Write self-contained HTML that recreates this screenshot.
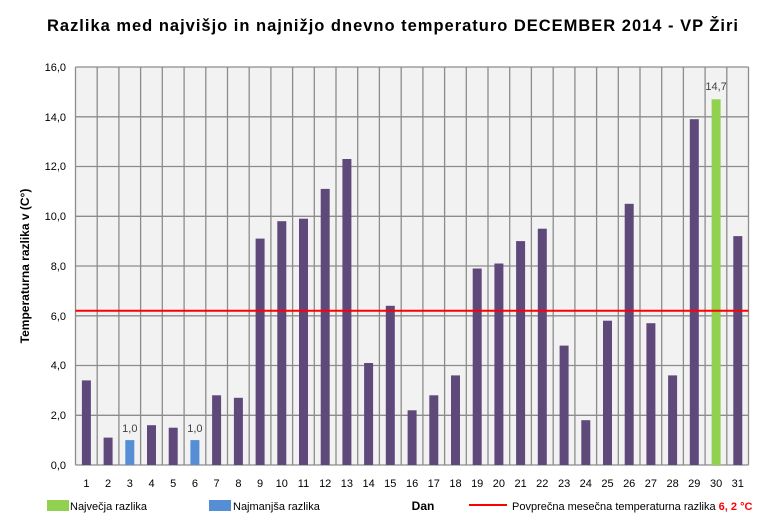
<!DOCTYPE html>
<html><head><meta charset="utf-8"><style>
body{margin:0;background:#fff;}
svg text{font-family:"Liberation Sans","DejaVu Sans",sans-serif;}
</style></head><body>
<svg width="770" height="520" xmlns="http://www.w3.org/2000/svg">
<rect width="770" height="520" fill="#fff"/>
<text x="47" y="31" textLength="691" lengthAdjust="spacing" font-size="16.5" font-weight="bold" fill="#000">Razlika med najvišjo  in najnižjo  dnevno  temperaturo  DECEMBER  2014 - VP Žiri</text>
<rect x="75.5" y="67" width="673" height="398" fill="#f2f2f2"/>
<g stroke="#8c8c8c" stroke-width="1.3">
<line x1="75.5" y1="67" x2="748.5" y2="67"/><line x1="75.5" y1="116.8" x2="748.5" y2="116.8"/><line x1="75.5" y1="166.5" x2="748.5" y2="166.5"/><line x1="75.5" y1="216.3" x2="748.5" y2="216.3"/><line x1="75.5" y1="266" x2="748.5" y2="266"/><line x1="75.5" y1="315.8" x2="748.5" y2="315.8"/><line x1="75.5" y1="365.5" x2="748.5" y2="365.5"/><line x1="75.5" y1="415.3" x2="748.5" y2="415.3"/>
<line x1="75.5" y1="67" x2="75.5" y2="465"/><line x1="97.2" y1="67" x2="97.2" y2="465"/><line x1="118.9" y1="67" x2="118.9" y2="465"/><line x1="140.6" y1="67" x2="140.6" y2="465"/><line x1="162.3" y1="67" x2="162.3" y2="465"/><line x1="184.1" y1="67" x2="184.1" y2="465"/><line x1="205.8" y1="67" x2="205.8" y2="465"/><line x1="227.5" y1="67" x2="227.5" y2="465"/><line x1="249.2" y1="67" x2="249.2" y2="465"/><line x1="270.9" y1="67" x2="270.9" y2="465"/><line x1="292.6" y1="67" x2="292.6" y2="465"/><line x1="314.3" y1="67" x2="314.3" y2="465"/><line x1="336" y1="67" x2="336" y2="465"/><line x1="357.7" y1="67" x2="357.7" y2="465"/><line x1="379.4" y1="67" x2="379.4" y2="465"/><line x1="401.2" y1="67" x2="401.2" y2="465"/><line x1="422.9" y1="67" x2="422.9" y2="465"/><line x1="444.6" y1="67" x2="444.6" y2="465"/><line x1="466.3" y1="67" x2="466.3" y2="465"/><line x1="488" y1="67" x2="488" y2="465"/><line x1="509.7" y1="67" x2="509.7" y2="465"/><line x1="531.4" y1="67" x2="531.4" y2="465"/><line x1="553.2" y1="67" x2="553.2" y2="465"/><line x1="574.9" y1="67" x2="574.9" y2="465"/><line x1="596.6" y1="67" x2="596.6" y2="465"/><line x1="618.3" y1="67" x2="618.3" y2="465"/><line x1="640" y1="67" x2="640" y2="465"/><line x1="661.7" y1="67" x2="661.7" y2="465"/><line x1="683.4" y1="67" x2="683.4" y2="465"/><line x1="705.1" y1="67" x2="705.1" y2="465"/><line x1="726.8" y1="67" x2="726.8" y2="465"/><line x1="748.5" y1="67" x2="748.5" y2="465"/>
<line x1="75.5" y1="465" x2="748.5" y2="465"/>
</g>
<g fill="#5f497a">
<rect x="81.9" y="380.4" width="9" height="84.6"/><rect x="103.6" y="437.6" width="9" height="27.4"/><rect x="147" y="425.2" width="9" height="39.8"/><rect x="168.7" y="427.7" width="9" height="37.3"/><rect x="212.1" y="395.3" width="9" height="69.7"/><rect x="233.9" y="397.8" width="9" height="67.2"/><rect x="255.6" y="238.6" width="9" height="226.4"/><rect x="277.3" y="221.2" width="9" height="243.8"/><rect x="299" y="218.7" width="9" height="246.3"/><rect x="320.7" y="188.9" width="9" height="276.1"/><rect x="342.4" y="159" width="9" height="306"/><rect x="364.1" y="363" width="9" height="102"/><rect x="385.8" y="305.8" width="9" height="159.2"/><rect x="407.6" y="410.3" width="9" height="54.7"/><rect x="429.3" y="395.3" width="9" height="69.7"/><rect x="451" y="375.4" width="9" height="89.6"/><rect x="472.7" y="268.5" width="9" height="196.5"/><rect x="494.4" y="263.5" width="9" height="201.5"/><rect x="516.1" y="241.1" width="9" height="223.9"/><rect x="537.8" y="228.7" width="9" height="236.3"/><rect x="559.6" y="345.6" width="9" height="119.4"/><rect x="581.3" y="420.2" width="9" height="44.8"/><rect x="603" y="320.7" width="9" height="144.3"/><rect x="624.7" y="203.8" width="9" height="261.2"/><rect x="646.4" y="323.2" width="9" height="141.8"/><rect x="668.1" y="375.4" width="9" height="89.6"/><rect x="689.8" y="119.2" width="9" height="345.8"/><rect x="733.3" y="236.1" width="9" height="228.9"/>
</g>
<rect x="125.3" y="440.1" width="9" height="24.9" fill="#558ed5"/>
<rect x="190.4" y="440.1" width="9" height="24.9" fill="#558ed5"/>
<rect x="711.6" y="99.3" width="9" height="365.7" fill="#92d050"/>
<line x1="75.5" y1="310.8" x2="748.5" y2="310.8" stroke="#ff0000" stroke-width="2"/>
<g font-size="11" fill="#404040" text-anchor="middle">
<text x="129.8" y="432">1,0</text><text x="194.9" y="432">1,0</text><text x="716.1" y="90">14,7</text>
</g>
<g font-size="11" fill="#000" text-anchor="end">
<text x="66" y="71">16,0</text><text x="66" y="121">14,0</text><text x="66" y="170">12,0</text><text x="66" y="220">10,0</text><text x="66" y="270">8,0</text><text x="66" y="320">6,0</text><text x="66" y="369">4,0</text><text x="66" y="419">2,0</text><text x="66" y="469">0,0</text>
</g>
<g font-size="11" fill="#000" text-anchor="middle">
<text x="86.4" y="487">1</text><text x="108.1" y="487">2</text><text x="129.8" y="487">3</text><text x="151.5" y="487">4</text><text x="173.2" y="487">5</text><text x="194.9" y="487">6</text><text x="216.6" y="487">7</text><text x="238.4" y="487">8</text><text x="260.1" y="487">9</text><text x="281.8" y="487">10</text><text x="303.5" y="487">11</text><text x="325.2" y="487">12</text><text x="346.9" y="487">13</text><text x="368.6" y="487">14</text><text x="390.3" y="487">15</text><text x="412.1" y="487">16</text><text x="433.8" y="487">17</text><text x="455.5" y="487">18</text><text x="477.2" y="487">19</text><text x="498.9" y="487">20</text><text x="520.6" y="487">21</text><text x="542.3" y="487">22</text><text x="564.1" y="487">23</text><text x="585.8" y="487">24</text><text x="607.5" y="487">25</text><text x="629.2" y="487">26</text><text x="650.9" y="487">27</text><text x="672.6" y="487">28</text><text x="694.3" y="487">29</text><text x="716.1" y="487">30</text><text x="737.8" y="487">31</text>
</g>
<text transform="translate(29,266) rotate(-90)" text-anchor="middle" font-size="12" font-weight="bold" fill="#000">Temperaturna razlika v (C°)</text>
<rect x="47" y="500" width="22" height="11" fill="#92d050"/>
<text x="70" y="510" font-size="11" fill="#000">Največja razlika</text>
<rect x="209" y="500" width="22" height="11" fill="#558ed5"/>
<text x="233" y="510" font-size="11" fill="#000">Najmanjša razlika</text>
<text x="423" y="510" text-anchor="middle" font-size="12" font-weight="bold" fill="#000">Dan</text>
<line x1="469" y1="505" x2="507" y2="505" stroke="#ff0000" stroke-width="2"/>
<text x="512" y="510" font-size="11" fill="#000">Povprečna mesečna temperaturna razlika <tspan fill="#ff0000" font-weight="bold">6, 2 °C</tspan></text>
</svg>
</body></html>
